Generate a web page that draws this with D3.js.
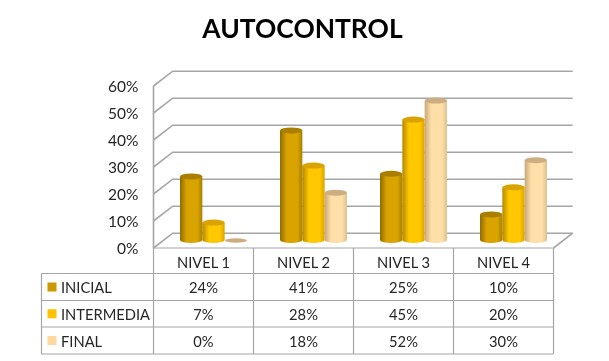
<!DOCTYPE html>
<html>
<head>
<meta charset="utf-8">
<script src="https://cdnjs.cloudflare.com/ajax/libs/d3/7.8.5/d3.min.js"></script>
<style>
  html, body { margin: 0; padding: 0; background: #fff; }
  svg { display: block; font-family: Lato, "Open Sans", sans-serif; filter: blur(0.35px); }
</style>
</head>
<body>
<svg id="chart" width="609" height="361"></svg>
<script>
const title = "AUTOCONTROL";
const categories = ["NIVEL 1", "NIVEL 2", "NIVEL 3", "NIVEL 4"];
const seriesNames = ["INICIAL", "INTERMEDIA", "FINAL"];
const inicial = [24, 41, 25, 10];
const intermedia = [7, 28, 45, 20];
const final = [0, 18, 52, 30];
const yTicks = [0, 10, 20, 30, 40, 50, 60];

const series = [inicial, intermedia, final];
// dark edge, light middle, top cap
const shades = [
  { edge: "#8f6b00", mid: "#d9a300", right: "#a87f00", cap: "#a87f00", swatch: "#cc9900" },
  { edge: "#b58800", mid: "#ffc800", right: "#d9a300", cap: "#d9a300", swatch: "#ffc000" },
  { edge: "#c9a877", mid: "#ffdfa8", right: "#dcc08f", cap: "#cdae82", swatch: "#ffd8a0" }
];

const svg = d3.select("#chart");

// profundidad de la caja 3D
const depthX = 19.2, depthY = 14.8;
const tableLeft = 41.5;
const rows = [248, 273.5, 300.5, 327, 354];

const x = d3.scaleBand().domain(categories).range([153.5, 553.5]);
const y = d3.scaleLinear().domain([0, 60]).range([248, 86]);
// altura de las barras, algo mayor que la rejilla por la perspectiva
const yBar = d3.scaleLinear().domain([0, 60]).range([241.5, 78.9]);
const xBar = d3.scaleBand().domain(d3.range(3)).range([26.5, 93.5]);

svg.append("text")
  .attr("x", 302.5).attr("y", 38)
  .attr("text-anchor", "middle")
  .attr("font-size", 26.4)
  .attr("font-weight", 700)
  .attr("fill", "#000")
  .text(title);

// gradientes de los cilindros
const defs = svg.append("defs");
shades.forEach((s, i) => {
  const g = defs.append("linearGradient").attr("id", "cyl" + i);
  g.append("stop").attr("offset", "0%").attr("stop-color", s.edge);
  g.append("stop").attr("offset", "30%").attr("stop-color", s.mid);
  g.append("stop").attr("offset", "78%").attr("stop-color", s.mid);
  g.append("stop").attr("offset", "100%").attr("stop-color", s.right);
});

// rejilla 3D
const grid = svg.append("g").attr("fill", "none").attr("stroke", "#a6a6a6").attr("stroke-width", 1.6);
yTicks.forEach(t => {
  grid.append("path").attr("d", d3.line()([
    [x.range()[0], y(t)],
    [x.range()[0] + depthX, y(t) - depthY],
    [x.range()[1] + depthX, y(t) - depthY]
  ]));
});
grid.append("path").attr("d", d3.line()([
  [x.range()[0], y(0)], [x.range()[0], y(60)]
]));
grid.append("path").attr("d", d3.line()([
  [x.range()[1], y(0)], [x.range()[1] + depthX, y(0) - depthY]
]));

// eje Y
const yAxis = svg.append("g")
  .attr("transform", `translate(${x.range()[0]},1)`)
  .call(d3.axisLeft(y).tickValues(yTicks).tickSize(0).tickPadding(15).tickFormat(d => d + "%"));
yAxis.select(".domain").remove();
yAxis.selectAll("text").attr("font-size", 15.5).attr("font-family", "Lato").attr("fill", "#262626");

// cilindros
const ry = 3;
categories.forEach((c, ci) => {
  series.forEach((vals, si) => {
    const v = vals[ci];
    const x0 = x(c) + xBar(si), w = xBar.bandwidth();
    const rx = w / 2, cx = x0 + rx;
    const base = yBar(0) - 1.5, top = yBar(v);
    if (v > 0) {
      svg.append("path")
        .attr("d", `M${x0},${top}L${x0},${base}A${rx},${ry} 0 0 0 ${x0 + w},${base}L${x0 + w},${top}Z`)
        .attr("fill", `url(#cyl${si})`);
    }
    svg.append("ellipse")
      .attr("cx", cx).attr("cy", v > 0 ? top : top - 1)
      .attr("rx", rx).attr("ry", v > 0 ? ry : 2.2)
      .attr("fill", shades[si].cap);
  });
});

// tabla de datos
const table = svg.append("g").attr("stroke", "#a6a6a6").attr("stroke-width", 1.2);
const colEdges = [x.range()[0], ...categories.map(c => x(c) + x.bandwidth())];
rows.forEach((ry2, i) => {
  table.append("line")
    .attr("x1", i === 0 ? x.range()[0] : tableLeft).attr("x2", x.range()[1])
    .attr("y1", ry2).attr("y2", ry2);
});
colEdges.forEach(cx => {
  table.append("line").attr("x1", cx).attr("x2", cx).attr("y1", rows[0]).attr("y2", rows[4]);
});
table.append("line").attr("x1", tableLeft).attr("x2", tableLeft).attr("y1", rows[1]).attr("y2", rows[4]);

const cellText = (tx, ty, str, anchor) => svg.append("text")
  .attr("x", tx).attr("y", ty)
  .attr("text-anchor", anchor || "middle")
  .attr("dominant-baseline", "central")
  .attr("font-size", 14.7)
  .attr("fill", "#262626")
  .text(str);

categories.forEach(c => cellText(x(c) + x.bandwidth() / 2, (rows[0] + rows[1]) / 2 + 1.5, c));
seriesNames.forEach((name, si) => {
  const mid = (rows[si + 1] + rows[si + 2]) / 2;
  svg.append("rect")
    .attr("x", 47.5).attr("y", mid - 4.5).attr("width", 9).attr("height", 9)
    .attr("fill", shades[si].swatch);
  cellText(61, mid, name, "start");
  categories.forEach((c, ci) => cellText(x(c) + x.bandwidth() / 2, mid, series[si][ci] + "%"));
});
</script>
</body>
</html>
